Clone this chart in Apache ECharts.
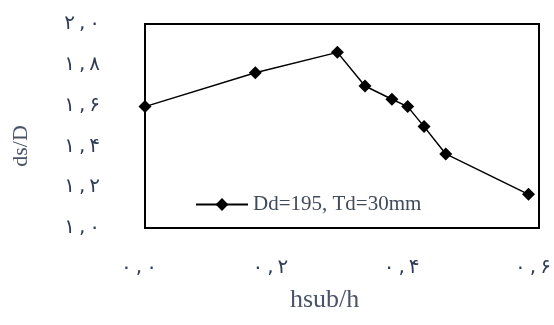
<!DOCTYPE html>
<html>
<head>
<meta charset="utf-8">
<script src="https://cdn.jsdelivr.net/npm/echarts@6/dist/echarts.min.js"></script>
<style>html,body{margin:0;padding:0;background:#fff}#c{width:554px;height:325px}</style>
</head>
<body>
<div id="c"></div>
<script>
var seriesName = 'Dd=195, Td=30mm';
var xValues = [0.0, 0.168, 0.293, 0.335, 0.376, 0.400, 0.425, 0.458, 0.584];
var yValues = [1.595, 1.761, 1.861, 1.696, 1.631, 1.595, 1.497, 1.363, 1.165];
var xTickLabels = ['۰\u2009,\u2009۰', '۰\u2009,\u2009۲', '۰\u2009,\u2009۴', '۰\u2009,\u2009۶'];
var yTickLabels = ['۱\u2009,\u2009۰', '۱\u2009,\u2009۲', '۱\u2009,\u2009۴', '۱\u2009,\u2009۶', '۱\u2009,\u2009۸', '۲\u2009,\u2009۰'];
var xTitle = 'hsub/h';
var yTitle = 'ds/D';

var data = xValues.map(function (x, i) { return [x, yValues[i]]; });
var labelColor = '#2f3c56';
var chart = echarts.init(document.getElementById('c'));
chart.setOption({
  animation: false,
  backgroundColor: '#fff',
  grid: { left: 145, top: 24, right: 15, bottom: 97, show: true, borderColor: '#000', borderWidth: 2,
          backgroundColor: 'transparent', containLabel: false, outerBoundsMode: 'none' },
  title: {
    text: xTitle, left: 285, top: 282,
    textStyle: { fontFamily: 'Liberation Serif', fontSize: 26, fontWeight: 'normal', color: '#4a5466' }
  },
  xAxis: {
    type: 'value', min: 0, max: 0.6, interval: 0.2,
    axisLine: { show: false }, axisTick: { show: false }, splitLine: { show: false },
    axisLabel: {
      margin: 30, fontFamily: 'DejaVu Sans', fontSize: 20, color: labelColor,
      padding: [0, 12, 0, 0],
      formatter: function (v) { return xTickLabels[Math.round(v / 0.2)]; }
    }
  },
  yAxis: {
    type: 'value', min: 1, max: 2, interval: 0.2,
    axisLine: { show: false }, axisTick: { show: false }, splitLine: { show: false },
    name: yTitle, nameLocation: 'middle', nameRotate: 90, nameGap: 113,
    nameTextStyle: { fontFamily: 'Liberation Serif', fontSize: 22, color: '#4a5466', padding: [0, 40, 0, 0] },
    axisLabel: {
      margin: 45, fontFamily: 'DejaVu Sans', fontSize: 20, color: labelColor,
      formatter: function (v) { return yTickLabels[Math.round((v - 1) / 0.2)]; }
    }
  },
  legend: {
    left: 190, top: 189, itemWidth: 52, itemHeight: 16, itemGap: 6,
    textStyle: { fontFamily: 'Liberation Serif', fontSize: 21, color: '#404a5a' },
    data: [seriesName]
  },
  series: [{
    name: seriesName, type: 'line', data: data,
    symbol: 'diamond', symbolSize: 13,
    lineStyle: { color: '#000', width: 1.5 },
    itemStyle: { color: '#000' }
  }]
});
</script>
</body>
</html>
